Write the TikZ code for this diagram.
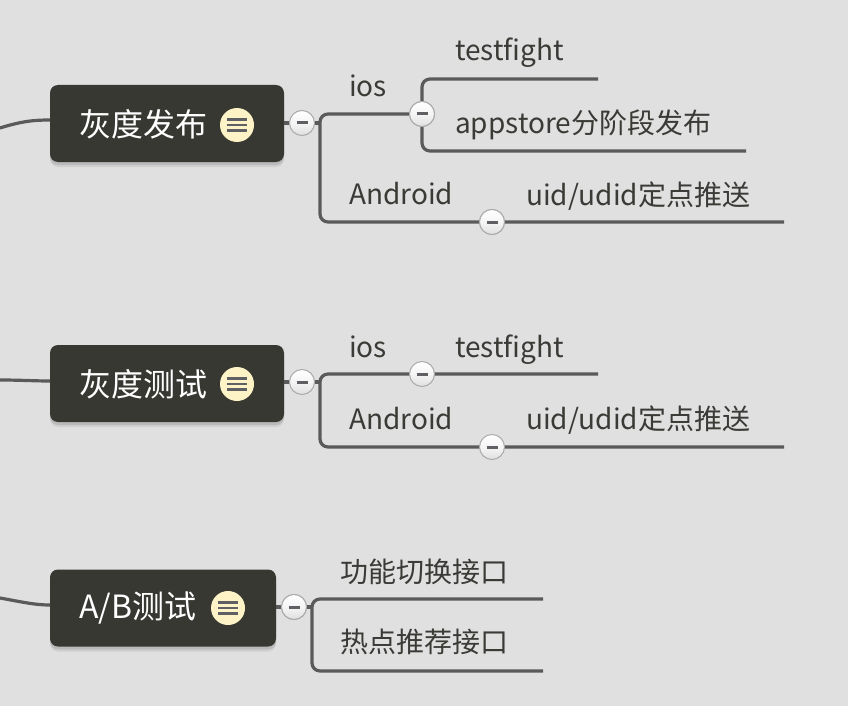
\documentclass[tikz,border=0pt]{standalone}
\usepackage{fontspec}
\newfontfamily\cjk{Noto Sans CJK SC}
\definecolor{bg}{HTML}{E0E0E0}
\definecolor{topicfill}{HTML}{383833}
\definecolor{linec}{HTML}{5A5A5A}
\definecolor{txt}{HTML}{3A3A36}
\definecolor{iconfill}{HTML}{FDF3C6}
\definecolor{btnborder}{HTML}{A8AAAC}
\definecolor{btnminus}{HTML}{5E6064}
\tikzset{
  topicbox/.style={draw=none, fill=topicfill, rounded corners=8pt, inner sep=0pt,
    preaction={fill=black, opacity=0.07, transform canvas={yshift=-5pt}},
    preaction={fill=black, opacity=0.10, transform canvas={yshift=-3pt}}},
  topictext/.style={font=\cjk\fontsize{32}{36}\selectfont, text=white, anchor=west, inner sep=0pt},
  subtext/.style={font=\cjk\fontsize{28}{32}\selectfont, text=txt, anchor=base west, inner sep=0pt},
  noteicon/.style={circle, fill=iconfill, minimum size=34pt, inner sep=0pt,
    path picture={
      \foreach \dy in {-5.5,0,5.5}{
        \draw[line width=2.8pt, btnminus] ([xshift=-10pt,yshift=\dy pt]path picture bounding box.center) -- ([xshift=10pt,yshift=\dy pt]path picture bounding box.center);}
    }},
  btn/.style={circle, draw=btnborder, line width=1pt, top color=white, bottom color=gray!25, middle color=gray!8,
    minimum size=25pt, inner sep=0pt,
    path picture={\draw[line width=3pt, btnminus] ([xshift=-5.5pt]path picture bounding box.center) -- ([xshift=5.5pt]path picture bounding box.center);}},
  conn/.style={draw=linec, line width=3.2pt},
  branch/.style={draw=linec, line width=3.2pt, rounded corners=8pt},
}
\begin{document}
\begin{tikzpicture}[x=1pt, y=-1pt]
\useasboundingbox (0,0) rectangle (848,706);
\fill[bg] (0,0) rectangle (848,706);

% ---------- coordinates for free ends ----------
\coordinate (l1) at (0,128);
\coordinate (l2) at (0,380);
\coordinate (l3) at (0,598);

% ---------- topic 1 ----------
\node[topicbox, minimum width=234pt, minimum height=77pt] (t1) at (167,123.5) {};
\node[topictext] (t1txt) at (79,124) {灰度发布};
\node[noteicon] (t1ic) at (237,125) {};
\draw[conn] (l1) .. controls (22,121) and (35,120) .. (t1.west |- 0,120);

\node[btn] (b1) at (302,123) {};
\coordinate (j1) at (320,123);
\draw[conn] (t1.east |- b1) -- (b1);
\draw[conn] (b1) -- (j1);

\coordinate (ios1s) at (320,114);
\coordinate (and1e) at (784,222);
\node[btn] (b1i) at (422,114) {};
\node[btn] (b1a) at (492,222) {};
\draw[branch] (b1i.west) -- (ios1s) -- (320,222) -- (and1e);
\node[btn] at (b1a) {};
\node[subtext] (ios1) at (349,97) {ios};
\node[subtext] (and1) at (349,204) {Android};
\node[subtext] (uid1) at (526,205) {uid/udid定点推送};

\coordinate (tf1e) at (598,79);
\coordinate (as1e) at (746,151);
\draw[branch] (tf1e) -- (422,79) -- (b1i.north);
\draw[branch] (b1i.south) -- (422,151) -- (as1e);
\node[btn] at (b1i) {};
\node[subtext] (tf1) at (455,61) {testfight};
\node[subtext] (as1) at (455,133) {appstore分阶段发布};

% ---------- topic 2 ----------
\node[topicbox, minimum width=234pt, minimum height=77pt] (t2) at (167,383.5) {};
\node[topictext] (t2txt) at (79,384) {灰度测试};
\node[noteicon] (t2ic) at (237,384) {};
\draw[conn] (l2) .. controls (20,380) and (35,381) .. (t2.west |- 0,381);

\node[btn] (b2) at (302,382) {};
\coordinate (j2) at (320,382);
\draw[conn] (t2.east |- b2) -- (b2);
\draw[conn] (b2) -- (j2);

\coordinate (ios2e) at (598,374);
\coordinate (and2e) at (784,447);
\draw[branch] (ios2e) -- (320,374) -- (320,447) -- (and2e);
\node[btn] (b2i) at (422,374) {};
\node[btn] (b2a) at (492,447) {};
\node[subtext] (ios2) at (349,357) {ios};
\node[subtext] (tf2) at (455,357) {testfight};
\node[subtext] (and2) at (349,429) {Android};
\node[subtext] (uid2) at (526,429) {uid/udid定点推送};

% ---------- topic 3 ----------
\node[topicbox, minimum width=226pt, minimum height=77pt] (t3) at (163,608) {};
\node[topictext] (t3txt) at (79,608) {A/B测试};
\node[noteicon] (t3ic) at (228,608) {};
\draw[conn] (l3) .. controls (22,602) and (35,605) .. (t3.west |- 0,605);

\node[btn] (b3) at (294,607) {};
\coordinate (j3) at (312,607);
\draw[conn] (t3.east |- b3) -- (b3);
\draw[conn] (b3) -- (j3);

\coordinate (fn3e) at (543,599);
\coordinate (hot3e) at (543,671);
\draw[branch] (fn3e) -- (312,599) -- (312,671) -- (hot3e);
\node[btn] at (b3) {};
\node[subtext] (fn3) at (340,582) {功能切换接口};
\node[subtext] (hot3) at (340,652) {热点推荐接口};
\end{tikzpicture}
\end{document}
